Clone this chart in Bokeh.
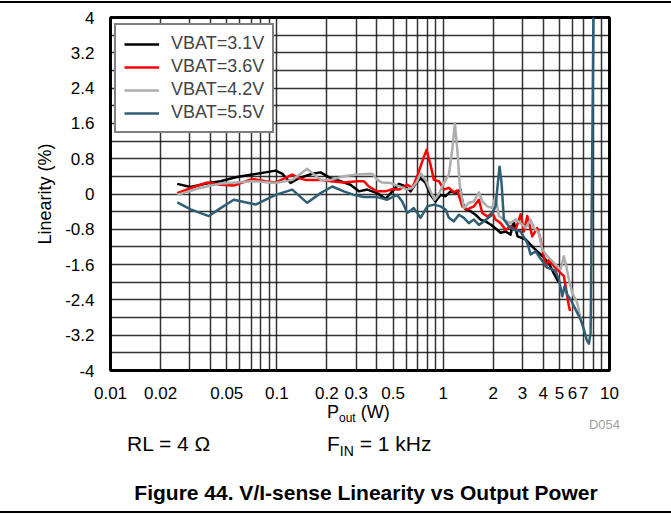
from bokeh.plotting import figure
from bokeh.layouts import column
from bokeh.models import FixedTicker, Legend, LegendItem, Div
from bokeh.embed import file_html
from bokeh.resources import INLINE

# ---------------- data ----------------
p31_x = [0.0252, 0.0303, 0.039, 0.0459, 0.0565, 0.0711, 0.0855, 0.0982, 0.1077, 0.1209,
         0.1356, 0.1633, 0.1832, 0.2103, 0.2415, 0.2773, 0.3112, 0.3499, 0.4018, 0.4508,
         0.4943, 0.542, 0.5807, 0.6368, 0.6823, 0.7311, 0.7834, 0.8395, 0.8995, 0.9638,
         1.034, 1.108, 1.188, 1.273, 1.308, 1.364, 1.462, 1.566, 1.679, 1.799,
         1.928, 2.018, 2.115, 2.214, 2.373, 2.543, 2.651, 2.802, 3.13, 3.497,
         3.96, 4.304, 4.612, 4.943]
p31_y = [0.23, 0.16, 0.25, 0.29, 0.38, 0.44, 0.49, 0.53, 0.46, 0.25,
         0.36, 0.46, 0.49, 0.36, 0.29, 0.21, 0.06, 0.10, 0.02, -0.11,
         0.06, 0.23, 0.19, 0.06, 0.23, 0.36, 0.25, -0.02, -0.17, -0.02,
         -0.05, 0.06, 0.02, 0.10, -0.20, -0.35, -0.39, -0.47, -0.58, -0.62,
         -0.69, -0.75, -0.81, -0.88, -0.85, -0.92, -0.62, -0.96, -1.03, -1.22,
         -1.41, -1.56, -1.79, -2.0]

p36_x = [0.0252, 0.0303, 0.0382, 0.0459, 0.0551, 0.0711, 0.0855, 0.0982, 0.1238, 0.1356,
         0.1488, 0.1709, 0.1832, 0.2103, 0.2529, 0.3044, 0.3336, 0.3575, 0.4018, 0.4508,
         0.4943, 0.542, 0.6083, 0.6518, 0.6985, 0.7486, 0.7947, 0.8395, 0.8794, 0.9422,
         1.01, 1.082, 1.16, 1.216, 1.303, 1.396, 1.53, 1.64, 1.719, 1.842,
         1.973, 2.066, 2.214, 2.373, 2.543, 2.725, 2.92, 3.058, 3.205, 3.434,
         3.68, 3.852, 4.128, 4.322, 4.632, 5.08, 5.318, 5.7, 5.796]
p36_y = [0.02, 0.13, 0.26, 0.21, 0.19, 0.34, 0.29, 0.26, 0.44, 0.36,
         0.32, 0.32, 0.32, 0.29, 0.26, 0.29, 0.29, 0.17, 0.06, 0.06,
         0.11, 0.10, 0.21, 0.14, 0.40, 0.74, 1.0, 0.66, 0.32, 0.29,
         0.10, 0.14, 0.04, 0.08, -0.28, -0.35, -0.28, -0.13, -0.43, -0.51,
         -0.43, -0.58, -0.66, -0.81, -0.73, -0.81, -0.46, -0.85, -0.50, -0.96,
         -0.77, -1.03, -1.64, -1.49, -1.64, -1.79, -1.86, -2.54, -2.65]

p42_x = [0.0252, 0.034, 0.0448, 0.0565, 0.0711, 0.0982, 0.1238, 0.1523, 0.1832, 0.2103,
         0.2529, 0.3044, 0.3747, 0.4018, 0.4303, 0.4828, 0.5543, 0.6083, 0.6518, 0.6985,
         0.7312, 0.7834, 0.8395, 0.8879, 0.9422, 1.01, 1.082, 1.134, 1.176, 1.216,
         1.26, 1.332, 1.427, 1.53, 1.64, 1.719, 1.842, 1.973, 2.066, 2.163,
         2.317, 2.543, 2.725, 2.92, 3.13, 3.355, 3.511, 3.763, 3.944, 4.227,
         4.53, 4.856, 5.08, 5.318, 5.498, 5.7, 5.975, 6.403, 6.704, 6.797]
p42_y = [-0.02, 0.13, 0.23, 0.26, 0.29, 0.25, 0.32, 0.57, 0.32, 0.32,
         0.40, 0.44, 0.46, 0.32, 0.26, 0.25, 0.16, 0.10, 0.14, 0.29,
         0.47, 0.32, 0.06, -0.13, 0.0, 0.25, 0.44, 1.0, 1.6, 1.0,
         0.17, -0.32, -0.20, -0.17, 0.04, -0.17, -0.28, -0.32, -0.05, -0.50,
         -0.58, -0.66, -0.58, -0.66, -0.77, -0.58, -0.77, -0.88, -1.26, -1.41,
         -1.52, -1.64, -1.71, -1.41, -1.64, -1.94, -2.24, -2.47, -2.84, -2.92]

p55_x = [0.0252, 0.0303, 0.039, 0.0459, 0.0551, 0.0745, 0.0982, 0.1238, 0.1523, 0.1832,
         0.2154, 0.2529, 0.2904, 0.3336, 0.4018, 0.4612, 0.5297, 0.5675, 0.6083, 0.6663,
         0.7311, 0.8025, 0.8794, 0.9638, 1.034, 1.082, 1.16, 1.243, 1.332, 1.427,
         1.53, 1.64, 1.757, 1.928, 2.066, 2.133, 2.183, 2.244, 2.317, 2.484,
         2.662, 2.92, 3.205, 3.355, 3.594, 3.763, 3.944, 4.227, 4.53, 4.742,
         4.963, 5.203, 5.37, 5.573, 5.835, 6.256, 6.704, 7.019, 7.285, 7.52,
         7.7, 8.025]
p55_y = [-0.19, -0.35, -0.50, -0.32, -0.13, -0.24, -0.02, 0.10, -0.20, 0.02,
         0.17, 0.06, -0.02, -0.07, -0.07, -0.13, -0.02, -0.17, -0.43, -0.32,
         -0.54, -0.28, -0.24, -0.28, -0.35, -0.54, -0.62, -0.47, -0.54, -0.66,
         -0.58, -0.70, -0.62, -0.50, -0.28, 0.25, 0.62, 0.25, -0.58, -0.73,
         -0.81, -0.85, -1.11, -1.37, -1.30, -1.41, -1.52, -1.67, -1.71, -1.75,
         -1.94, -2.32, -2.09, -2.28, -2.39, -2.62, -2.84, -3.07, -3.30, -3.39,
         -3.15, 4.5]

series_names = ["VBAT=3.1V", "VBAT=3.6V", "VBAT=4.2V", "VBAT=5.5V"]
series_colors = ["#000000", "#FF0000", "#ADADAD", "#2F5F77"]

x_ticks = [0.01, 0.02, 0.05, 0.1, 0.2, 0.3, 0.5, 1, 2, 3, 4, 5, 6, 7, 10]
x_tick_labels = ["0.01", "0.02", "0.05", "0.1", "0.2", "0.3", "0.5", "1", "2", "3", "4", "5", "6", "7", "10"]
x_grid = [0.01, 0.02, 0.03, 0.04, 0.05, 0.06, 0.07, 0.08, 0.09,
          0.1, 0.2, 0.3, 0.4, 0.5, 0.6, 0.7, 0.8, 0.9,
          1, 2, 3, 4, 5, 6, 7, 8, 9, 10]
y_ticks = [-4, -3.2, -2.4, -1.6, -0.8, 0, 0.8, 1.6, 2.4, 3.2, 4]
y_tick_labels = ["-4", "-3.2", "-2.4", "-1.6", "-0.8", "0", "0.8", "1.6", "2.4", "3.2", "4"]
y_grid = [-4, -3.6, -3.2, -2.8, -2.4, -2.0, -1.6, -1.2, -0.8, -0.4, 0,
          0.4, 0.8, 1.2, 1.6, 2.0, 2.4, 2.8, 3.2, 3.6, 4]

x_label_main, x_label_sub, x_label_unit = "P", "out", "(W)"
cond_rl = "RL = 4 \u03a9"
cond_f_main, cond_f_sub, cond_f_rest = "F", "IN", "= 1 kHz"
fig_code = "D054"
caption = "Figure 44. V/I-sense Linearity vs Output Power"

FONT = "Liberation Sans"
W = 671
TOP_H, MAIN_H, BOT_H = 5, 399, 110

# ---------- top spacer ----------
top_div = Div(text="", width=W, height=TOP_H, margin=0)

# ---------- main chart ----------
p = figure(width=W, height=MAIN_H, x_axis_type="log", x_range=(0.01, 10), y_range=(-4, 4),
           output_backend="svg", toolbar_location=None,
           min_border_left=110, min_border_right=62, min_border_top=12, min_border_bottom=34)
p.background_fill_color = "white"
p.border_fill_color = "white"
p.outline_line_color = "black"
p.outline_line_width = 3

p.xgrid.ticker = FixedTicker(ticks=x_grid)
p.ygrid.ticker = FixedTicker(ticks=y_grid)
for g in (p.xgrid, p.ygrid):
    g.grid_line_color = "#111111"
    g.grid_line_width = 1.5
    g.grid_line_alpha = 0.85

p.xaxis.ticker = FixedTicker(ticks=x_ticks)
p.xaxis.major_label_overrides = {t: l for t, l in zip(x_ticks, x_tick_labels)}
p.yaxis.ticker = FixedTicker(ticks=y_ticks)
p.yaxis.major_label_overrides = {t: l for t, l in zip(y_ticks, y_tick_labels)}
for ax in (p.xaxis, p.yaxis):
    ax.axis_line_color = None
    ax.major_tick_line_color = None
    ax.minor_tick_line_color = None
    ax.major_label_text_font = FONT
    ax.major_label_text_font_size = "17px"
    ax.major_label_text_color = "black"
p.xaxis.major_label_standoff = 10
p.yaxis.major_label_standoff = 10
p.yaxis.axis_label = "Linearity (%)"
p.yaxis.axis_label_text_font = FONT
p.yaxis.axis_label_text_font_size = "18px"
p.yaxis.axis_label_text_font_style = "normal"
p.yaxis.axis_label_text_color = "black"
p.yaxis.axis_label_standoff = 7

renderers = []
for xs, ys, c in [(p31_x, p31_y, series_colors[0]), (p36_x, p36_y, series_colors[1]),
                  (p42_x, p42_y, series_colors[2]), (p55_x, p55_y, series_colors[3])]:
    renderers.append(p.line(xs, ys, line_color=c, line_width=2.5, line_join="round"))

legend = Legend(items=[LegendItem(label=n, renderers=[r]) for n, r in zip(series_names, renderers)],
                location=(4, 237))
legend.border_line_color = "black"
legend.border_line_width = 2.5
legend.background_fill_color = "white"
legend.background_fill_alpha = 1
legend.label_text_font = FONT
legend.label_text_font_size = "18px"
legend.glyph_width = 35
legend.glyph_height = 20
legend.label_standoff = 12
legend.spacing = 2
legend.padding = 8
legend.margin = 0
p.add_layout(legend)

# ---------- texts below the chart (HTML, so subscripts are real text) ----------
top_rule_offset = -(TOP_H + MAIN_H) + 1
base = f"position:absolute;white-space:nowrap;line-height:1;font-family:'{FONT}';color:#000;"
bottom_html = (
    f'<div style="position:relative;width:{W}px;height:{BOT_H}px;overflow:visible;">'
    f'<div style="position:absolute;left:0;top:{top_rule_offset}px;width:{W}px;height:2px;'
    f'background:#000;z-index:10;"></div>'
    f'<span style="{base}left:327px;top:-1px;font-size:18px;">{x_label_main}'
    f'<span style="font-size:12px;vertical-align:-4px;">{x_label_sub}</span> {x_label_unit}</span>'
    f'<span style="{base}right:51px;top:14px;font-size:13px;color:#a0a0a0;">{fig_code}</span>'
    f'<span style="{base}left:127px;top:29px;font-size:21px;">{cond_rl}</span>'
    f'<span style="{base}left:327px;top:29px;font-size:21px;">{cond_f_main}'
    f'<span style="font-size:14px;vertical-align:-5px;">{cond_f_sub}</span> {cond_f_rest}</span>'
    f'<span style="{base}left:66px;width:600px;text-align:center;top:78px;font-size:21px;'
    f'font-weight:bold;">{caption}</span>'
    f'<div style="position:absolute;left:0;top:107px;width:{W}px;height:1.5px;background:#000;"></div>'
    f'</div>'
)
bottom_div = Div(width=W, height=BOT_H, margin=0, text=bottom_html, styles={"overflow": "visible"})

layout = column(top_div, p, bottom_div, spacing=0)
open("out.html", "w").write(file_html(layout, INLINE))
